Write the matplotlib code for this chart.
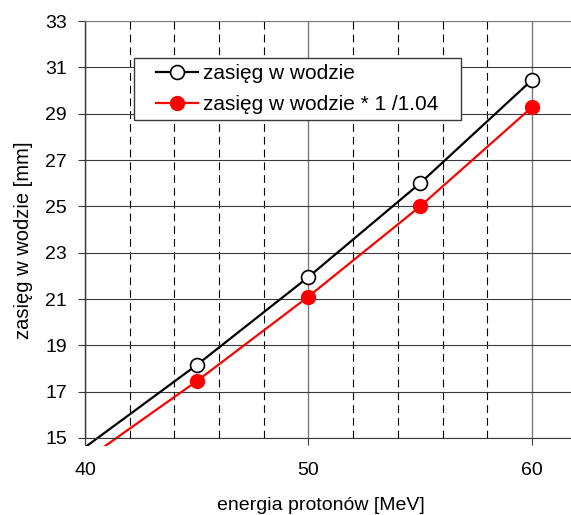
import matplotlib.pyplot as plt
from matplotlib.transforms import Bbox, TransformedBbox
from matplotlib.ticker import MultipleLocator
from matplotlib.path import Path

plt.rcParams['font.family'] = ['Liberation Sans', 'DejaVu Sans']

# data
energy = [40, 45, 50, 55, 60]
range_water = [14.6, 18.15, 21.95, 26.0, 30.45]
range_scaled = [r / 1.04 for r in range_water]
yticks = list(range(15, 34, 2))


class WideBox:
    """square legend frame with extra padding left/right (px)"""
    def __init__(self, padx):
        self.padx = padx

    def __call__(self, x0, y0, width, height, mutation_size):
        x0 -= self.padx
        x1 = x0 + width + 2 * self.padx
        y1 = y0 + height
        return Path([(x0, y0), (x1, y0), (x1, y1), (x0, y1), (x0, y0)], closed=True)


fig = plt.figure(figsize=(5.71, 5.15), dpi=100)
ax = fig.add_axes([85 / 571, 1 - 438 / 515, 1 - 85 / 571, (438 - 21) / 515])

ax.set_xlim(40, 61.75)
ax.set_ylim(15, 33)
ax.set_yticks(yticks)
ax.xaxis.set_major_locator(MultipleLocator(10))
ax.xaxis.set_minor_locator(MultipleLocator(2))

ax.grid(True, which='major', axis='y', color='#3a3a3a', lw=0.8)
ax.grid(True, which='major', axis='x', color='#7a7a7a', lw=1.0)
ax.grid(True, which='minor', axis='x', color='black', lw=0.8, ls=(0, (7, 4.5)))
ax.set_axisbelow(True)

l1, = ax.plot(energy, range_water, color='black', lw=1.6, marker='o', ms=10,
              mfc='white', mec='black', mew=1.2, markevery=[1, 2, 3, 4],
              label='zasięg w wodzie')
l2, = ax.plot(energy, range_scaled, color='red', lw=1.6, marker='o', ms=10,
              mfc='red', mec='red', markevery=[1, 2, 3, 4],
              label='zasięg w wodzie * 1 /1.04')
# plot area in the original clips slightly below the x axis
clip = TransformedBbox(Bbox([[0, -0.019], [1, 1]]), ax.transAxes)
for ln in (l1, l2):
    ln.set_clip_box(clip)

ax.spines['right'].set_visible(False)
ax.spines['top'].set_color('#7a7a7a')
ax.spines['bottom'].set_color('#3a3a3a')
ax.spines['bottom'].set_linewidth(0.8)
ax.spines['left'].set_color('#3a3a3a')
ax.spines['left'].set_linewidth(1.0)

ax.tick_params(axis='both', which='major', direction='out', length=5,
               width=0.8, labelsize=14, color='#3a3a3a')
ax.tick_params(axis='y', pad=8)
ax.tick_params(axis='x', pad=12)
ax.tick_params(axis='x', which='minor', length=0)

ax.set_xlabel('energia protonów [MeV]', fontsize=14)
ax.set_ylabel('zasięg w wodzie [mm]', fontsize=14.5)
ax.xaxis.set_label_coords((321 - 85) / 486, -(497 - 438) / 417)
ax.yaxis.set_label_coords((33 - 85) / 486, (438 - 240) / 417)

leg = ax.legend(loc='upper left', bbox_to_anchor=((150 - 85) / 486, 0.911),
                borderaxespad=0, fontsize=15, frameon=True, fancybox=False,
                edgecolor='#3a3a3a', framealpha=1, borderpad=0.3,
                handlelength=2.0, handletextpad=0.25, labelspacing=0.55)
leg.get_frame().set_linewidth(1.0)
leg.get_frame().set_boxstyle(WideBox(16))

fig.savefig('out.png', dpi=100)
